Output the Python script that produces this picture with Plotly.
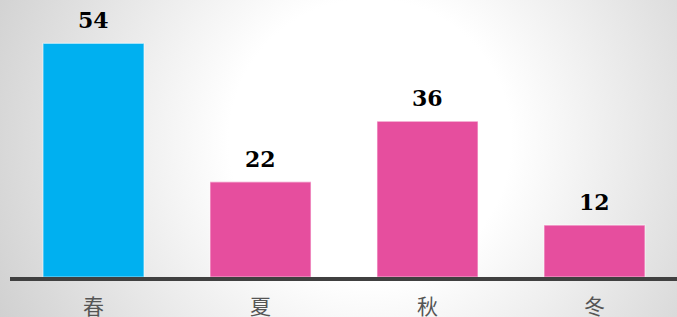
import base64
import plotly.graph_objects as go

categories = ["春", "夏", "秋", "冬"]
values = [54, 22, 36, 12]
bar_colors = ["#00B0F0", "#E64E9E", "#E64E9E", "#E64E9E"]

W, H = 677, 317
ML, MR, MT, MB = 10, 0, 0, 40

svg = f'''<svg xmlns="http://www.w3.org/2000/svg" width="{W}" height="{H}" viewBox="0 0 {W} {H}" preserveAspectRatio="none">
<defs><radialGradient id="g" gradientUnits="userSpaceOnUse" cx="370" cy="140" r="470">
<stop offset="0" stop-color="#ffffff"/><stop offset="0.3" stop-color="#ffffff"/>
<stop offset="1" stop-color="#c6c6c6"/></radialGradient></defs>
<rect width="{W}" height="{H}" fill="url(#g)"/></svg>'''
src = "data:image/svg+xml;base64," + base64.b64encode(svg.encode()).decode()

pw = W - ML - MR
ph = H - MT - MB

fig = go.Figure()
fig.add_trace(go.Bar(
    x=categories, y=values,
    marker=dict(color=bar_colors, line=dict(color="rgba(255,255,255,0.55)", width=1.2)),
    width=0.605,
    hoverinfo="skip",
))

for c, v in zip(categories, values):
    fig.add_annotation(x=c, y=v, text=str(v), showarrow=False, yanchor="bottom", yshift=8,
                       font=dict(family="DejaVu Serif", size=22, color="black", weight="bold"))

fig.update_layout(
    width=W, height=H,
    margin=dict(l=ML, r=MR, t=MT, b=MB, pad=0, autoexpand=False),
    paper_bgcolor="#d8d8d8",
    plot_bgcolor="rgba(0,0,0,0)",
    showlegend=False,
    bargap=0.4,
    images=[dict(source=src, xref="paper", yref="paper",
                 x=-ML / pw, y=1 + MT / ph, sizex=W / pw, sizey=H / ph,
                 xanchor="left", yanchor="top", sizing="stretch", layer="below")],
    xaxis=dict(range=[-0.5, -0.5 + pw / 167.0], showgrid=False, zeroline=False, automargin=False,
               showline=True, linecolor="#404040", linewidth=4,
               ticks="outside", ticklen=8, tickcolor="rgba(0,0,0,0)",
               tickfont=dict(family="Noto Sans CJK SC", size=21, color="#555555")),
    yaxis=dict(range=[0, 64], visible=False, showgrid=False, zeroline=False, automargin=False),
)

fig.write_html("out.html", config={"displayModeBar": False},
               post_script="document.body.style.margin='0';document.body.style.padding='0';"
                           "document.body.style.overflow='hidden';")
